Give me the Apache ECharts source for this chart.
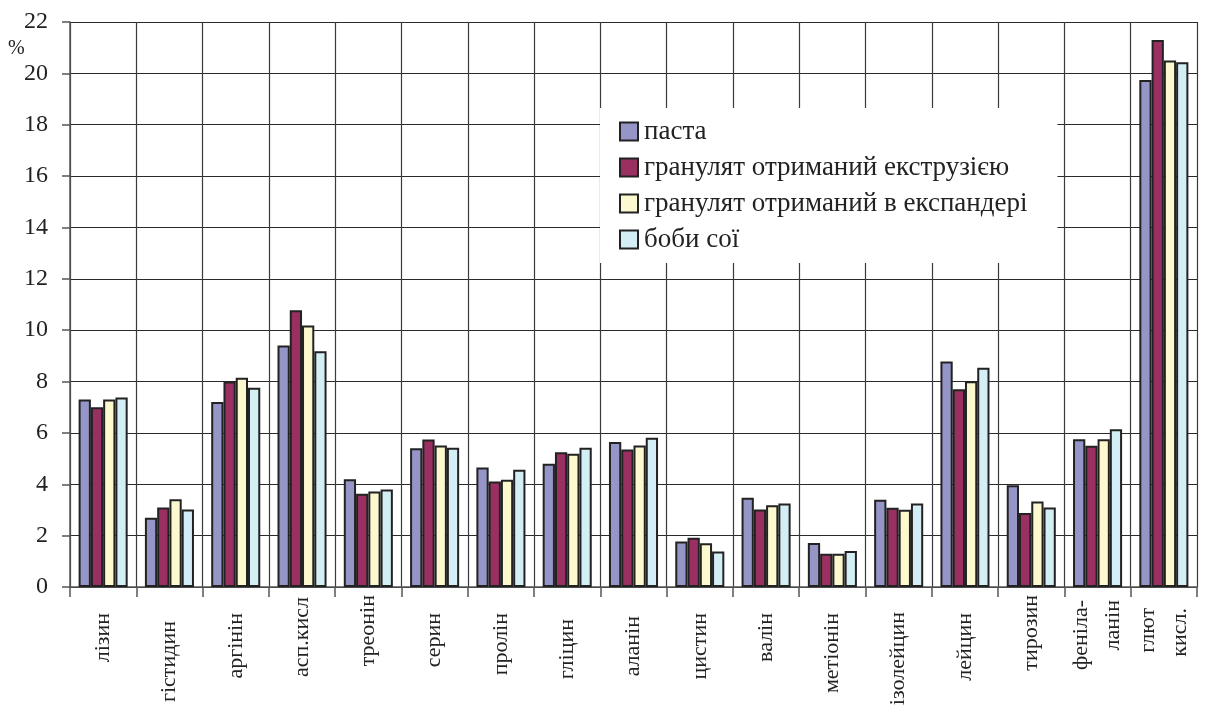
<!DOCTYPE html>
<html>
<head>
<meta charset="utf-8">
<style>
  html, body { margin: 0; padding: 0; background: #fff; }
  #chart { width: 1213px; height: 722px; }
</style>
<script src="https://cdn.jsdelivr.net/npm/echarts@6/dist/echarts.min.js"></script>
</head>
<body>
<div id="chart"></div>
<script>
// Amino acid composition, % of total protein
const categories = [
  'лізин', 'гістидин', 'аргінін', 'асп.кисл', 'треонін', 'серин', 'пролін',
  'гліцин', 'аланін', 'цистин', 'валін', 'метіонін', 'ізолейцин', 'лейцин',
  'тирозин', 'феніла-\nланін', 'глют\nкисл.'
];

const seriesNames = [
  'паста',
  'гранулят отриманий екструзією',
  'гранулят отриманий в експандері',
  'боби сої'
];

const pasta    = [7.3, 2.7, 7.2, 9.4, 4.2, 5.4, 4.65, 4.8, 5.65, 1.77, 3.48, 1.71, 3.4, 8.78, 3.96, 5.75, 19.74];
const extruded = [7.0, 3.1, 8.0, 10.78, 3.63, 5.74, 4.11, 5.25, 5.35, 1.92, 3.02, 1.29, 3.09, 7.7, 2.88, 5.5, 21.3];
const expander = [7.3, 3.42, 8.15, 10.18, 3.72, 5.51, 4.18, 5.19, 5.51, 1.7, 3.18, 1.29, 3.01, 8.01, 3.33, 5.75, 20.5];
const soybeans = [7.38, 3.02, 7.76, 9.18, 3.8, 5.42, 4.57, 5.42, 5.81, 1.38, 3.25, 1.4, 3.25, 8.54, 3.1, 6.14, 20.43];

const yTicks = { min: 0, max: 22, interval: 2 };

// extra downward shift of each category label, px
const labelShift = [18, 26, 18, 2, 0, 18, 18, 24, 21, 18, 18, 18, 17, 18, 0, 5, 13];

const colors = ['#9595c8', '#9a3062', '#fcf9cf', '#d3eef4'];
const serif = 'Liberation Serif';

const chart = echarts.init(document.getElementById('chart'), null, { renderer: 'canvas' });

const seriesData = [pasta, extruded, expander, soybeans];

chart.setOption({
  animation: false,
  backgroundColor: '#ffffff',
  color: colors,
  textStyle: { fontFamily: serif, color: '#222' },
  grid: { left: 70, right: 16, top: 22, bottom: 135, containLabel: false },
  graphic: [{
    type: 'text',
    left: 8,
    top: 39,
    style: { text: '%', fontFamily: serif, fontSize: 20, fill: '#222' }
  }],
  legend: {
    orient: 'vertical',
    left: 600,
    top: 108,
    padding: [10, 30, 10, 19],
    icon: 'rect',
    itemWidth: 18,
    itemHeight: 18,
    itemGap: 9,
    backgroundColor: '#ffffff',
    textStyle: { fontFamily: serif, fontSize: 27, lineHeight: 27, color: '#222', padding: [0, 0, 0, 1] },
    data: seriesNames
  },
  xAxis: {
    type: 'category',
    data: categories.map((c, i) => ({
      value: c,
      textStyle: { padding: [i === 16 ? 34 : 0, labelShift[i], 0, 0] }
    })),
    boundaryGap: true,
    axisLine: { lineStyle: { color: '#555', width: 1.5 } },
    axisTick: { show: true, length: 10, alignWithLabel: false, lineStyle: { color: '#555', width: 1.5 } },
    splitLine: { show: true, lineStyle: { color: '#3a3a3a', width: 1.2 } },
    axisLabel: {
      rotate: 90,
      interval: 0,
      margin: 8,
      fontFamily: serif,
      fontSize: 22,
      color: '#222',
      lineHeight: 32
    }
  },
  yAxis: {
    type: 'value',
    min: yTicks.min,
    max: yTicks.max,
    interval: yTicks.interval,
    axisLine: { show: true, lineStyle: { color: '#555', width: 1.5 } },
    axisTick: { show: true, length: 8, lineStyle: { color: '#555', width: 1.5 } },
    splitLine: { show: true, lineStyle: { color: '#2a2a2a', width: 1.2 } },
    axisLabel: { margin: 22, fontFamily: serif, fontSize: 24, color: '#222' }
  },
  series: seriesNames.map((name, i) => ({
    name,
    type: 'bar',
    data: seriesData[i],
    barGap: '0%',
    barCategoryGap: '26%',
    itemStyle: { color: colors[i], borderColor: '#222', borderWidth: 2 }
  }))
});
</script>
</body>
</html>
